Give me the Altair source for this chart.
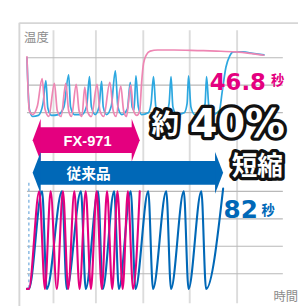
import altair as alt
import pandas as pd

# ---------------- data ----------------
# upper panel: temperature trace, time in seconds
top_pink_t = [-0.8, 0.2, 1.6, 3.6, 5.6, 6.8, 8.4, 10.8, 12.0, 13.6, 15.6, 16.8, 18.0, 20.0, 21.2,
              22.4, 23.6, 24.8, 26.4, 28.8, 30.0, 31.6, 34.2, 35.6, 36.8, 38.8, 40.0, 41.2, 43.0,
              44.2, 45.6, 46.8, 47.6, 48.4, 49.6, 51.2, 54.4, 61.2, 71.2, 79.2, 87.2, 93.2, 99.2]
top_pink_v = [303, 107, 93, 124, 224, 114, 86, 207, 107, 86, 207, 107, 86, 203, 107,
              86, 193, 103, 86, 203, 107, 86, 210, 107, 86, 197, 107, 86, 200,
              107, 90, 107, 210, 279, 310, 324, 328, 328, 326, 324, 321, 316, 309]

top_blue_t = [-0.8, 0.2, 1.6, 4.0, 6.0, 7.2, 8.0, 9.6, 12.4, 14.8, 16.8, 17.6, 19.2, 22.4, 24.4,
              25.6, 26.4, 28.0, 29.6, 30.7, 31.4, 32.8, 34.8, 36.5, 37.6, 39.2, 41.6, 42.8, 43.6,
              44.4, 45.2, 46.2, 47.6, 50.4, 51.6, 52.6, 53.6, 55.2, 58.0, 59.2, 60.0, 60.8, 62.4,
              65.6, 66.8, 67.4, 68.4, 70.0, 73.2, 74.4, 75.0, 76.0, 77.6, 80.4, 81.6, 83.2, 84.8,
              86.4, 90.4, 94.4, 99.2]
top_blue_v = [300, 114, 86, 90, 134, 217, 117, 90, 93, 121, 238, 121, 93, 93, 124,
              231, 121, 93, 121, 214, 121, 93, 124, 252, 121, 93, 114, 210, 121,
              110, 234, 121, 93, 100, 134, 231, 121, 93, 100, 134, 231, 121, 93,
              100, 134, 234, 121, 93, 100, 134, 231, 121, 93, 107, 176, 266, 307,
              321, 321, 316, 310]

# lower panel: on/off cycling trace
low_pink_t = [-0.8, 0, 4.4, 6.8, 9.2, 11.8, 14.4, 16.6, 19.2, 21.4, 24.0, 26.2, 28.6, 30.8,
              33.0, 35.2, 37.4, 39.6, 41.8, 44.0, 46.8]
low_pink_v = [0.45, 0.45, 4.0, 0.45, 4.0, 0.45, 4.0, 0.45, 4.0, 0.45, 4.0, 0.45, 4.0, 0.45,
              4.0, 0.45, 4.0, 0.45, 4.0, 0.45, 4.0]

low_blue_t = [-0.8, 0, 5.6, 7.6, 14.0, 16.0, 22.0, 24.0, 29.2, 31.2, 36.0, 38.0, 43.0, 45.0,
              50.4, 52.4, 58.0, 60.0, 65.4, 67.4, 72.8, 74.8, 82.0]
low_blue_v = [0.45, 0.45, 4.0, 0.45, 4.0, 0.45, 4.0, 0.45, 4.0, 0.45, 4.0, 0.45, 4.0, 0.45,
              4.0, 0.45, 4.0, 0.45, 4.0, 0.45, 4.0, 0.45, 4.1]

grid_top = [100, 200, 300]
grid_low = [1, 2, 3, 4]
grid_x = [10.4, 28.3, 48.3, 67.9, 87.9]
grid_span = [-0.8, 107.2]

arrow_names = ["FX-971", "従来品"]
arrow_start = [1.6, 1.6]
arrow_end = [46.8, 82.0]

y_title = "温度"
x_title = "時間"
pink_result = ["46.8", "秒"]
blue_result = ["82", "秒"]
headline = ["約", "40%", "短縮"]

# ---------------- styling ----------------
PINK = "#E4007F"
BLUE = "#0068B7"
PINK_LIGHT = "#EE86B3"
BLUE_LIGHT = "#2DA8E0"
JP = "Noto Sans CJK JP"
W = 306

XS = alt.Scale(domain=[-8.8, 113.6])
YT = alt.Scale(domain=[-603.4, 451.7])
YL = alt.Scale(domain=[-0.172, 10.379])


def xq(field):
    return alt.X(field, type="quantitative", scale=XS, axis=None)


def line(t, v, yscale, color, width):
    df = pd.DataFrame({"t": t, "v": v})
    return alt.Chart(df).mark_line(color=color, strokeWidth=width, interpolate="monotone",
                                   strokeJoin="round", strokeCap="round").encode(
        x=xq("t"), y=alt.Y("v:Q", scale=yscale, axis=None))


def text(s, x, y, size, color, font, weight="normal", align="center", baseline="middle", **kw):
    return alt.Chart(pd.DataFrame({"s": [s]})).mark_text(
        fontSize=size, color=color, font=font, fontWeight=weight, align=align,
        baseline=baseline, **kw).encode(text="s:N", x=alt.value(x), y=alt.value(y))


def outlined(s, x, y, size, font):
    back = text(s, x, y, size, "#111111", font, "bold", baseline="alphabetic",
                stroke="#111111", strokeWidth=7, strokeJoin="round")
    front = text(s, x, y, size, "white", font, "bold", baseline="alphabetic")
    return [back, front]


layers = []

# frame
layers.append(alt.Chart(pd.DataFrame({"a": [0]})).mark_rule(color="#d6d6d6", strokeWidth=2).encode(
    x=alt.value(12), y=alt.value(7), y2=alt.value(W)))
layers.append(alt.Chart(pd.DataFrame({"a": [0]})).mark_rule(color="#d6d6d6", strokeWidth=2).encode(
    y=alt.value(7.5), x=alt.value(12), x2=alt.value(W)))

# vertical grid
layers.append(alt.Chart(pd.DataFrame({"t": grid_x})).mark_rule(color="#dcdcdc", strokeWidth=2).encode(
    x=xq("t"), y=alt.value(15), y2=alt.value(303)))
# horizontal grid
gt = pd.DataFrame({"v": grid_top, "x1": grid_span[0], "x2": grid_span[1]})
layers.append(alt.Chart(gt).mark_rule(color="#b9b9b9", strokeWidth=1.2).encode(
    y=alt.Y("v:Q", scale=YT, axis=None), x=xq("x1"), x2="x2:Q"))
gl = pd.DataFrame({"v": grid_low, "x1": grid_span[0], "x2": grid_span[1]})
layers.append(alt.Chart(gl).mark_rule(color="#b9b9b9", strokeWidth=1.2).encode(
    y=alt.Y("v:Q", scale=YL, axis=None), x=xq("x1"), x2="x2:Q"))

# dashed start marker
layers.append(alt.Chart(pd.DataFrame({"t": [0]})).mark_rule(
    color="#86B8E2", strokeWidth=1.5, strokeDash=[3, 3]).encode(
    x=xq("t"), y=alt.value(176), y2=alt.value(287)))

# traces
layers.append(line(top_blue_t, top_blue_v, YT, BLUE_LIGHT, 1.8))
layers.append(line(top_pink_t, top_pink_v, YT, PINK_LIGHT, 1.8))
layers.append(line(low_blue_t, low_blue_v, YL, BLUE, 2.2))
layers.append(line(low_pink_t, low_pink_v, YL, PINK, 2.2))

# arrows
arrows = pd.DataFrame({"name": arrow_names, "start": arrow_start, "end": arrow_end})
arrow_style = [(PINK, 131, 27, 45, 84), (BLUE, 165.5, 25, 44, 85)]
for i, (col, yc, bh, hh, tx) in enumerate(arrow_style):
    base = alt.Chart(arrows.iloc[[i]])
    k = 8.5 / (hh / 2)
    layers.append(base.transform_calculate(b0="datum.start + 3.0", b1="datum.end - 3.0")
                  .mark_rect(color=col).encode(
        x=xq("b0"), x2="b1:Q", y=alt.value(yc - bh / 2), y2=alt.value(yc + bh / 2)))
    layers.append(base.mark_point(shape=f"M0,0L{k:.3f},-1L{k:.3f},1Z", filled=True, color=col,
                                  opacity=1, size=hh ** 2, strokeWidth=0).encode(
        x=xq("start"), y=alt.value(yc)))
    layers.append(base.mark_point(shape=f"M0,0L-{k:.3f},-1L-{k:.3f},1Z", filled=True, color=col,
                                  opacity=1, size=hh ** 2, strokeWidth=0).encode(
        x=xq("end"), y=alt.value(yc)))
    layers.append(base.mark_text(color="white", fontSize=15.5, fontWeight="bold",
                                 font="Liberation Sans" if i == 0 else JP, baseline="middle").encode(
        text="name:N", x=alt.value(tx), y=alt.value(yc + 1)))

# axis titles
layers.append(text(y_title, 30, 23, 13, "#8c8c8c", JP))
layers.append(text(x_title, 306, 297, 13, "#8c8c8c", JP, align="right"))

# results
layers.append(text(pink_result[0], 242.5, 78.3, 24, PINK, "DejaVu Sans", "bold", baseline="alphabetic"))
layers.append(text(pink_result[1], 284.5, 69, 14, PINK, JP, "bold"))
layers.append(text(blue_result[0], 245.5, 213, 26, BLUE, "DejaVu Sans", "bold", baseline="alphabetic"))
layers.append(text(blue_result[1], 274.5, 205.5, 14, BLUE, JP, "bold"))

# headline
layers += outlined(headline[0], 166, 124, 29, JP)
layers += outlined(headline[1], 242, 128, 42, "DejaVu Sans")
layers += outlined(headline[2], 263, 168, 27, JP)

chart = alt.layer(*layers).resolve_scale(y="independent").properties(
    width=W, height=W, padding=0, autosize=alt.AutoSizeParams(type="none"),
    background="white").configure_view(stroke=None)

chart.save("out.html", embed_options={"renderer": "svg", "actions": False})
